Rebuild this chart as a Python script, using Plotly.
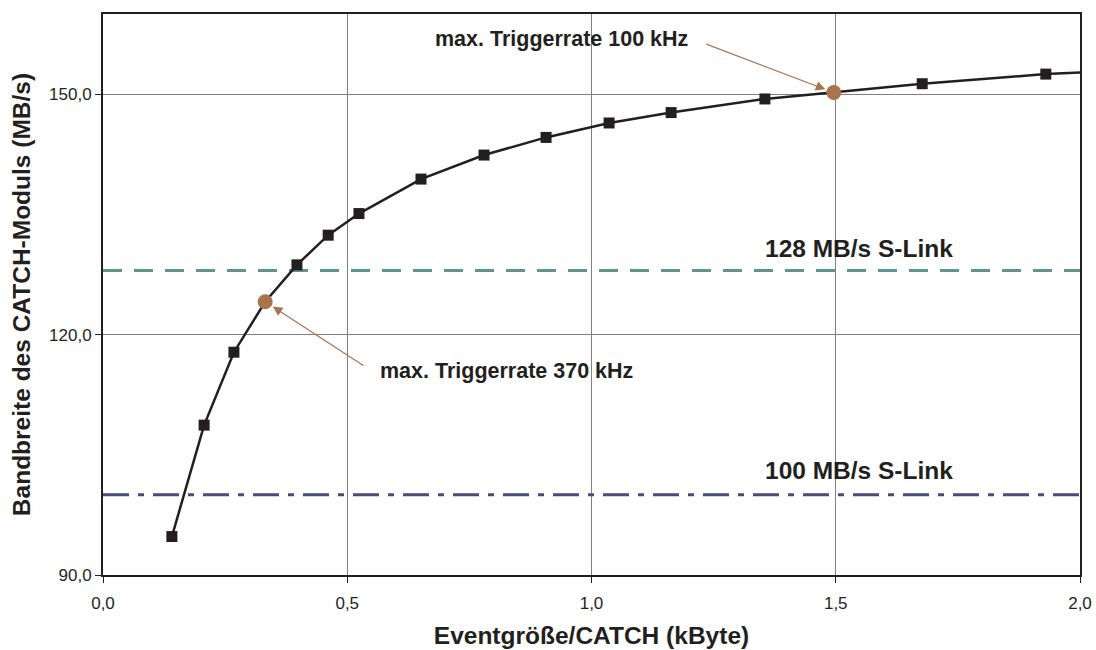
import plotly.graph_objects as go

# Measured points (event size in kByte, bandwidth in MB/s)
event_size = [0.141, 0.207, 0.268, 0.397, 0.461, 0.524, 0.651, 0.780, 0.907,
              1.036, 1.163, 1.355, 1.677, 1.930]
bandwidth = [94.8, 108.7, 117.8, 128.7, 132.4, 135.1, 139.4, 142.4, 144.6,
             146.4, 147.7, 149.4, 151.3, 152.5]

# Highlighted points (max trigger rate)
hl_size = [0.332, 1.496]
hl_bw = [124.1, 150.2]

# Curve end at the right edge
curve_end_x = [2.0]
curve_end_y = [152.7]

# Reference levels
slink_128 = 128
slink_100 = 100

x_ticks = [0.0, 0.5, 1.0, 1.5, 2.0]
x_labels = ["0,0", "0,5", "1,0", "1,5", "2,0"]
y_ticks = [90, 120, 150]
y_labels = ["90,0", "120,0", "150,0"]

# Curve through all points, sorted by x
curve = sorted(zip(event_size + hl_size + curve_end_x, bandwidth + hl_bw + curve_end_y))
cx = [p[0] for p in curve]
cy = [p[1] for p in curve]

FONT = "Liberation Sans, Arial, sans-serif"
BROWN = "#a8744c"
INK = "#231f20"

fig = go.Figure()

fig.add_trace(go.Scatter(x=[0, 2.0], y=[slink_128, slink_128], mode="lines",
                         line=dict(color="#5f9490", width=3, dash="19px,12px"),
                         hoverinfo="skip"))
fig.add_trace(go.Scatter(x=[0, 2.0], y=[slink_100, slink_100], mode="lines",
                         line=dict(color="#4a4a7c", width=3, dash="26px,9px,6px,9px"),
                         hoverinfo="skip"))
fig.add_trace(go.Scatter(x=cx, y=cy, mode="lines",
                         line=dict(color=INK, width=2.5), hoverinfo="skip"))
fig.add_trace(go.Scatter(x=event_size, y=bandwidth, mode="markers",
                         marker=dict(symbol="square", size=11, color=INK),
                         cliponaxis=False))
fig.add_trace(go.Scatter(x=hl_size, y=hl_bw, mode="markers",
                         marker=dict(symbol="circle", size=15, color=BROWN),
                         cliponaxis=False))

# Arrow annotations (tail offsets in pixels from the highlighted points)
fig.add_annotation(x=hl_size[1], y=hl_bw[1], ax=-129, ay=-49,
                   text="", showarrow=True, arrowhead=2, arrowsize=1.6, arrowwidth=1.2,
                   arrowcolor=BROWN, standoff=9)
fig.add_annotation(x=hl_size[0], y=hl_bw[0], ax=100, ay=65,
                   text="", showarrow=True, arrowhead=2, arrowsize=1.6, arrowwidth=1.2,
                   arrowcolor=BROWN, standoff=9)

fig.add_annotation(x=0.6755, y=156.9, text="<b>max. Triggerrate 100 kHz</b>", showarrow=False,
                   xanchor="left", yanchor="middle", font=dict(family=FONT, size=21.5, color=INK))
fig.add_annotation(x=0.563, y=115.45, text="<b>max. Triggerrate 370 kHz</b>", showarrow=False,
                   xanchor="left", yanchor="middle", font=dict(family=FONT, size=21.5, color=INK))
fig.add_annotation(x=1.351, y=130.75, text="<b>128 MB/s S-Link</b>", showarrow=False,
                   xanchor="left", yanchor="middle", font=dict(family=FONT, size=24.5, color=INK))
fig.add_annotation(x=1.351, y=103.05, text="<b>100 MB/s S-Link</b>", showarrow=False,
                   xanchor="left", yanchor="middle", font=dict(family=FONT, size=24.5, color=INK))

fig.update_layout(
    width=1088, height=642,
    margin=dict(l=95, r=16, t=4, b=75),
    paper_bgcolor="white", plot_bgcolor="white",
    showlegend=False,
    font=dict(family=FONT, color=INK),
)
fig.update_xaxes(range=[0, 2.0], tickvals=x_ticks, ticktext=x_labels,
                 showgrid=True, gridcolor="#808080", gridwidth=1,
                 showline=True, linecolor=INK, linewidth=2, mirror=True,
                 ticks="outside", ticklen=6, tickcolor=INK, zeroline=False,
                 ticklabelstandoff=6,
                 tickfont=dict(size=17, family=FONT, color=INK),
                 title=dict(text="<b>Eventgröße/CATCH (kByte)</b>", standoff=14,
                            font=dict(size=24.5, family=FONT, color=INK)))
fig.update_yaxes(range=[90, 160], tickvals=y_ticks, ticktext=y_labels,
                 showgrid=True, gridcolor="#808080", gridwidth=1,
                 showline=True, linecolor=INK, linewidth=2, mirror=True,
                 ticks="outside", ticklen=6, tickcolor=INK, zeroline=False,
                 tickfont=dict(size=17, family=FONT, color=INK),
                 title=dict(text="<b>Bandbreite des CATCH-Moduls (MB/s)</b>", standoff=12,
                            font=dict(size=24.5, family=FONT, color=INK)))

fig.write_html("out.html", config={"displayModeBar": False},
               post_script="document.body.style.margin='8px 0px 0px 8px';")
